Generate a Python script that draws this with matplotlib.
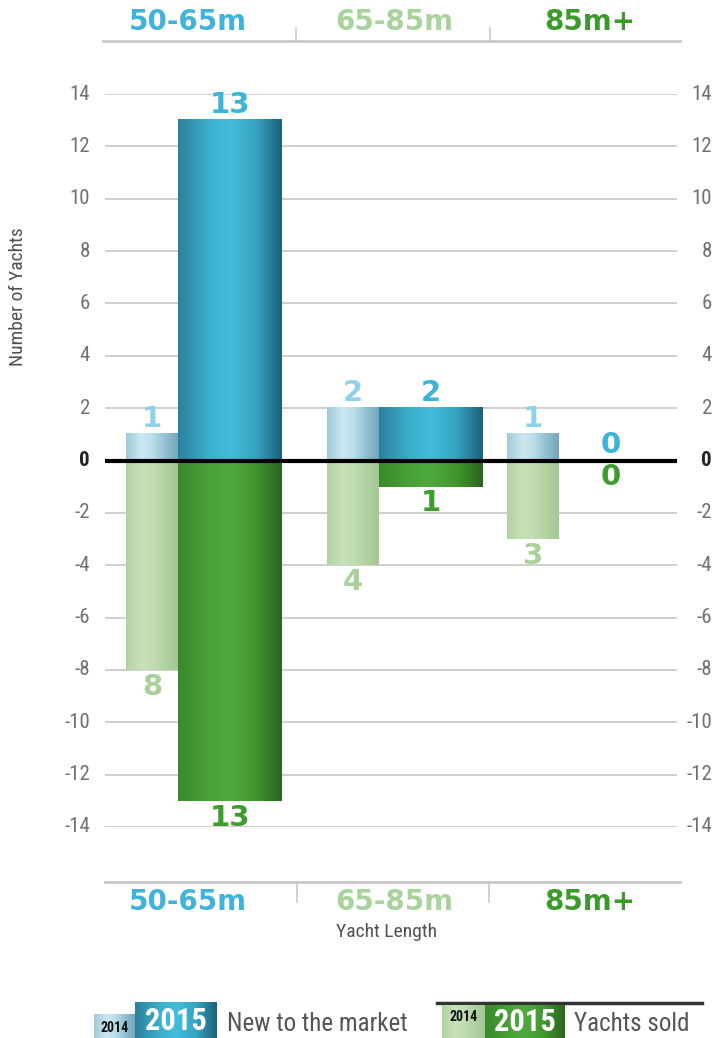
import numpy as np
import matplotlib
matplotlib.use('Agg')
import matplotlib.pyplot as plt
from matplotlib import font_manager
from matplotlib.colors import LinearSegmentedColormap
from matplotlib.lines import Line2D

# yachts per length band
categories = ['50-65m', '65-85m', '85m+']
new_2014 = [1, 2, 1]
new_2015 = [13, 2, 0]
sold_2014 = [8, 4, 3]
sold_2015 = [13, 1, 0]
yticks = list(range(-14, 15, 2))

# colours
cat_colors = ['#3fb3d9', '#a8d39c', '#3c9a2c']
lbl_new14, lbl_new15 = '#8fd2e8', '#3cb4d8'
lbl_sold14, lbl_sold15 = '#a8d098', '#3e9b2e'
g_new14 = ['#9fcad9', '#cae8f1', '#bddfea', '#93c1d1', '#74a5b9']
g_new15 = ['#2b819c', '#3cafcd', '#43bdda', '#36a3c2', '#1c6079']
g_sold14 = ['#b2d2a2', '#c7e1ba', '#c2ddb4', '#b2d2a2', '#a3c693']
g_sold15 = ['#3a892b', '#49a139', '#4faa3d', '#42952f', '#2a6420']
stops = [0.0, 0.3, 0.5, 0.75, 1.0]

# pick the narrowest sans we have for axis text
fonts = font_manager.fontManager.ttflist
names = {f.name for f in fonts}
NARROW = None
for fam in ['Liberation Sans Narrow', 'Roboto Condensed', 'Open Sans Condensed',
            'Noto Sans Condensed']:
    if fam in names:
        NARROW = dict(family=fam)
        break
if NARROW is None:
    if any(f.name == 'DejaVu Sans' and f.stretch == 'condensed' for f in fonts):
        NARROW = dict(family='DejaVu Sans', stretch='condensed')
    elif 'Roboto' in names:
        NARROW = dict(family='Roboto')
    else:
        NARROW = dict(family='Liberation Sans')
BOLD = dict(family='DejaVu Sans', weight='bold')

W, H = 716, 1038
fig = plt.figure(figsize=(W / 100, H / 100), dpi=100)
fig.patch.set_facecolor('white')

ax = fig.add_axes([105 / W, 1 - 827 / H, 572 / W, 733 / H])


def grad_rect(a, x0, x1, y0, y1, colors, z=3):
    cmap = LinearSegmentedColormap.from_list('g', list(zip(stops, colors)))
    img = np.linspace(0, 1, 256).reshape(1, -1)
    a.imshow(img, cmap=cmap, extent=(x0, x1, min(y0, y1), max(y0, y1)),
             aspect='auto', interpolation='bicubic', zorder=z)


group_left = [126, 327, 507]
w14, w15 = 52, 104

for i in range(len(categories)):
    xa = group_left[i]
    xb = xa + w14
    xc = xb + w15
    series = [
        (xa, xb, new_2014[i], g_new14, lbl_new14),
        (xb, xc, new_2015[i], g_new15, lbl_new15),
        (xa, xb, -sold_2014[i], g_sold14, lbl_sold14),
        (xb, xc, -sold_2015[i], g_sold15, lbl_sold15),
    ]
    for j, (x0, x1, v, cols, lc) in enumerate(series):
        if v != 0:
            grad_rect(ax, x0, x1, 0, v, cols)
        up = j < 2
        ax.annotate(str(abs(v)), ((x0 + x1) / 2, v),
                    xytext=(0, 1 if up else -2), textcoords='offset points',
                    ha='center', va='bottom' if up else 'top',
                    color=lc, fontsize=21, annotation_clip=False, **BOLD)

ax.axhline(0, color='black', lw=3, zorder=5)
ax.set_xlim(105, 677)
ax.set_ylim(-14, 14)
ax.set_yticks(yticks)
ax.set_xticks([])
ax.tick_params(axis='y', length=0, labelleft=False)
ax.grid(axis='y', color='#cccccc', lw=1.3, zorder=0)
ax.set_axisbelow(True)
for s in ax.spines.values():
    s.set_visible(False)

# tick labels on both sides, hyphen as the minus sign
ytr = ax.get_yaxis_transform()
for v in yticks:
    bold = v == 0
    kw = dict(va='center', ha='right', transform=ytr, fontsize=15,
              color='#222222' if bold else '#707070',
              weight='bold' if bold else 'normal', **NARROW)
    ax.text(-15 / 572, v, str(v), **kw)
    ax.text(1 + 35 / 572, v, str(v), **kw)

# header, footer and legend drawn in pixel coordinates
ov = fig.add_axes([0, 0, 1, 1], zorder=-1)
ov.axis('off')

ov.add_line(Line2D([103, 680], [41, 41], color='#c8c8c8', lw=2))
for x in (296, 490):
    ov.add_line(Line2D([x, x], [28, 41], color='#c8c8c8', lw=1.2))
ov.add_line(Line2D([105, 680], [882, 882], color='#c8c8c8', lw=2))
for x in (297, 489):
    ov.add_line(Line2D([x, x], [882, 902], color='#c8c8c8', lw=1.2))

cat_x = [188, 394, 590]
for cx, name, c in zip(cat_x, categories, cat_colors):
    ov.text(cx, 22, name, ha='center', va='center', color=c, fontsize=20, **BOLD)
    ov.text(cx, 902, name, ha='center', va='center', color=c, fontsize=20, **BOLD)

ov.text(387, 932, 'Yacht Length', ha='center', va='center', color='#505050',
        fontsize=14, **NARROW)
fig.text(18 / W, 1 - 297 / H, 'Number of Yachts', rotation=90, ha='center',
         va='center', color='#505050', fontsize=14, **NARROW)

# legend: new to the market
grad_rect(ov, 94, 135, 1014, 1038, g_new14)
grad_rect(ov, 135, 217, 1002, 1038, g_new15)
ov.text(114.5, 1028, '2014', ha='center', va='center', fontsize=10,
        color='#111111', weight='bold', **NARROW)
ov.text(176, 1021, '2015', ha='center', va='center', fontsize=22,
        color='white', weight='bold', **NARROW)
ov.text(227, 1024, 'New to the market', ha='left', va='center', fontsize=18,
        color='#555555', **NARROW)

# legend: yachts sold
ov.add_line(Line2D([437, 702], [1003, 1003], color='#333333', lw=2.5))
grad_rect(ov, 442, 485, 1005, 1038, g_sold14)
grad_rect(ov, 485, 565, 1005, 1038, g_sold15)
ov.text(463.5, 1017, '2014', ha='center', va='center', fontsize=10,
        color='#111111', weight='bold', **NARROW)
ov.text(525, 1022, '2015', ha='center', va='center', fontsize=22,
        color='white', weight='bold', **NARROW)
ov.text(574, 1024, 'Yachts sold', ha='left', va='center', fontsize=18,
        color='#555555', **NARROW)

ov.set_xlim(0, W)
ov.set_ylim(H, 0)

fig.savefig('out.png', dpi=100, facecolor='white')
